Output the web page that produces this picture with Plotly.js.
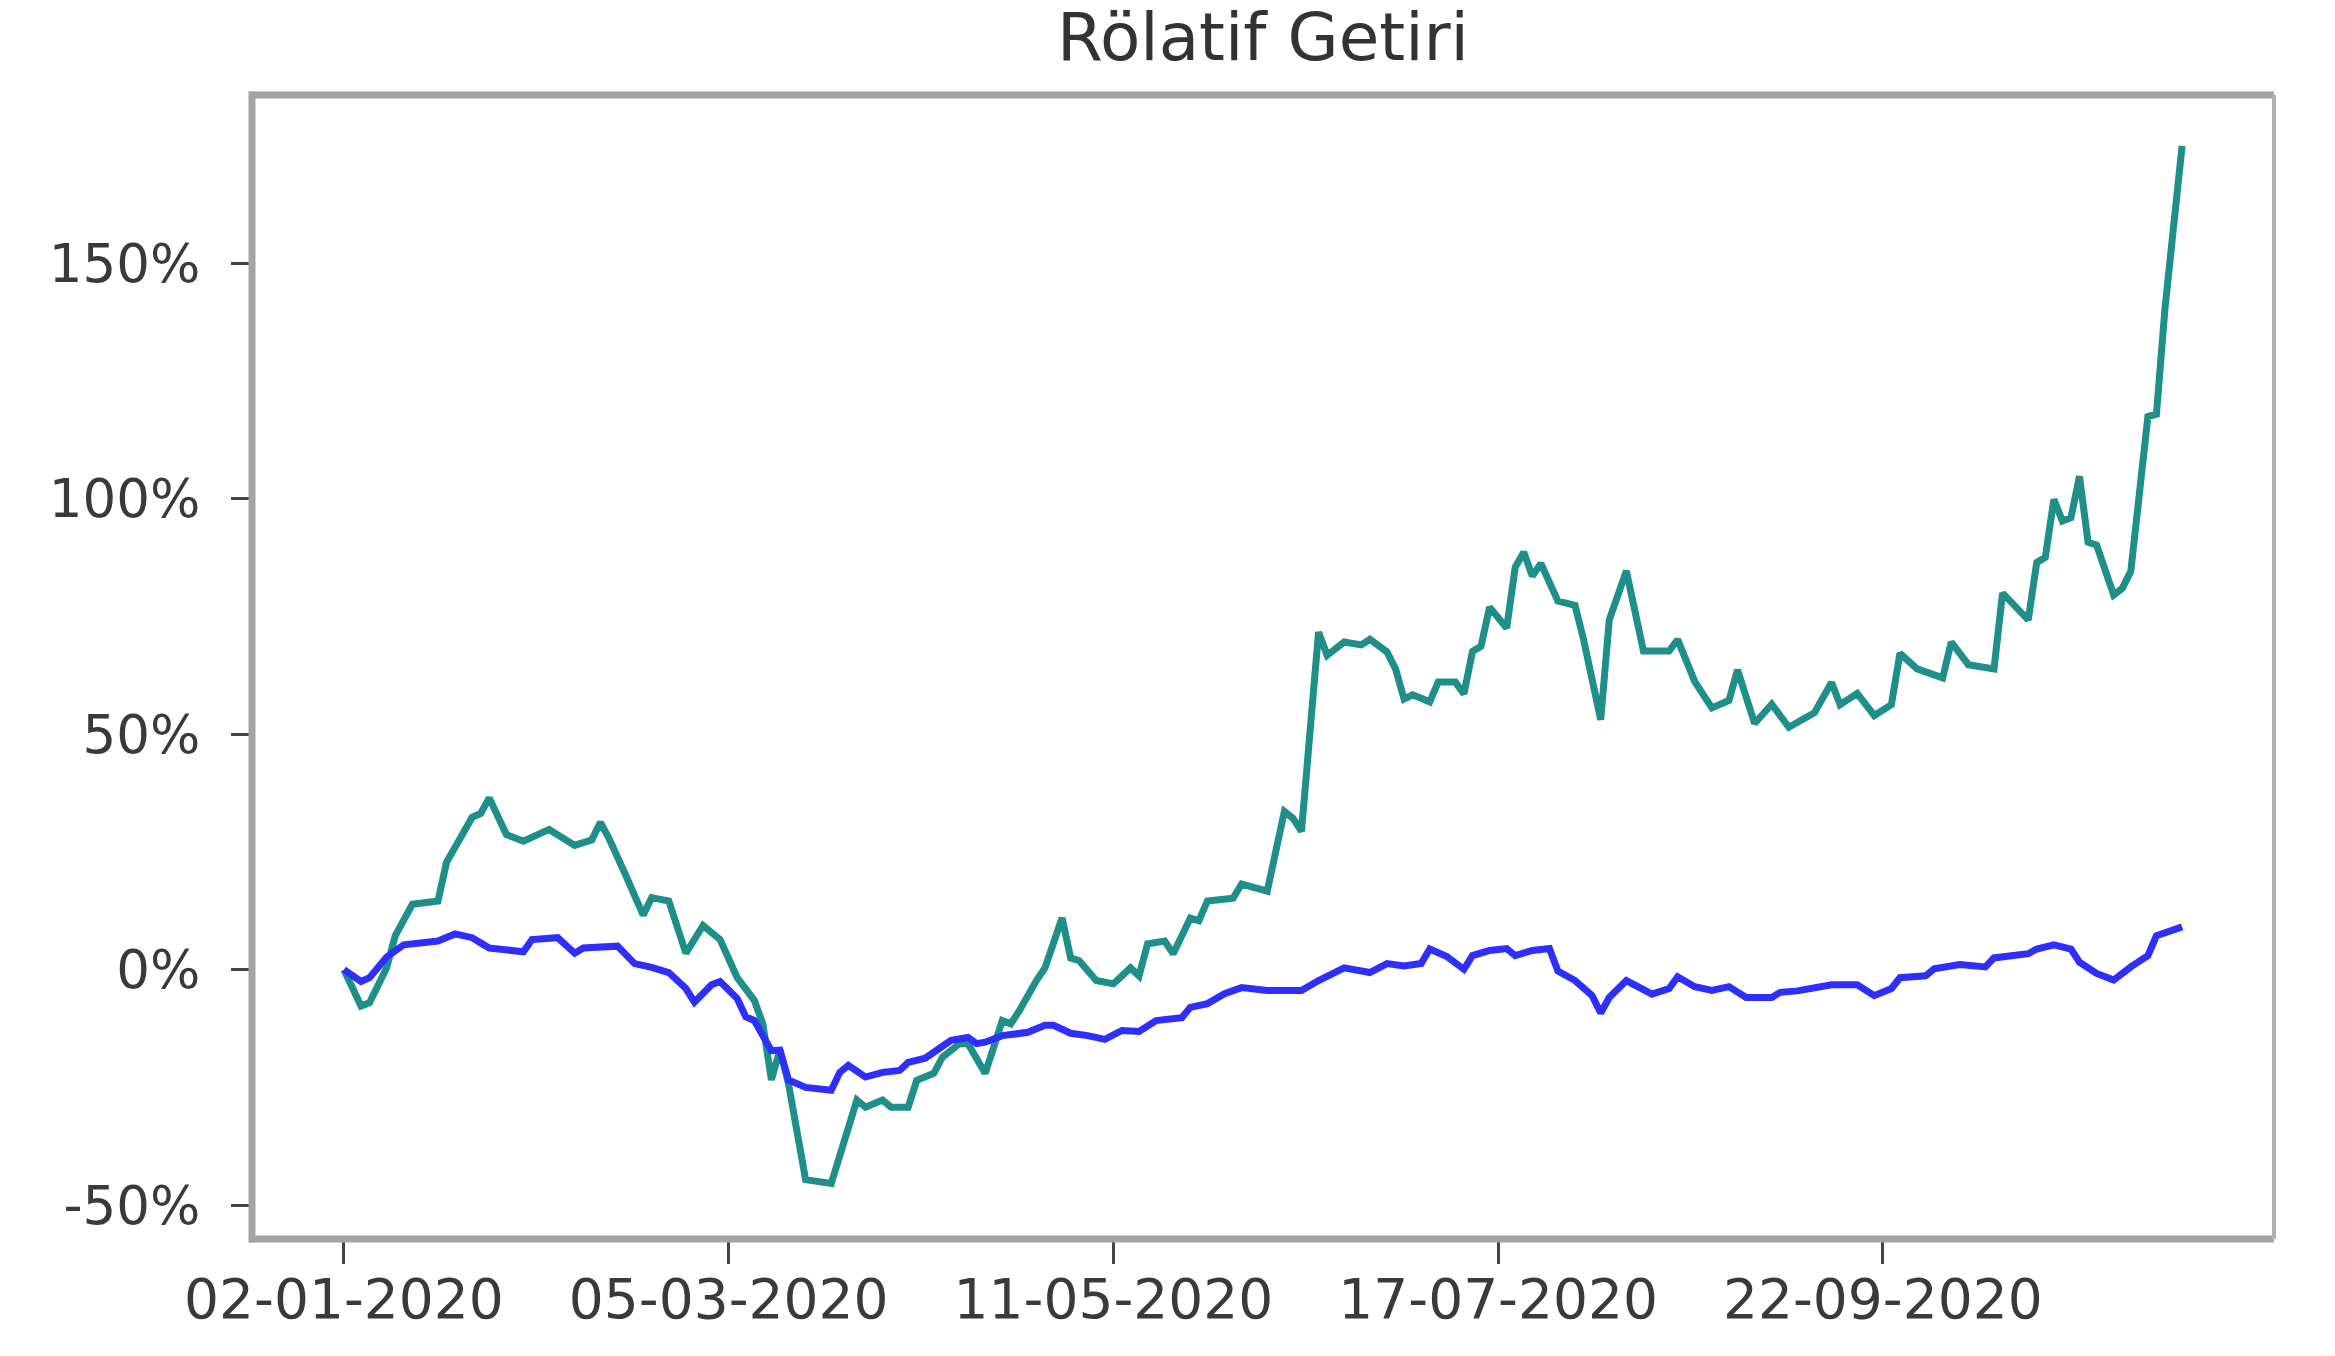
<!DOCTYPE html>
<html>
<head>
<meta charset="utf-8">
<script src="https://cdn.plot.ly/plotly-3.0.1.min.js"></script>
<style>html,body{margin:0;padding:0;background:#fff;}</style>
</head>
<body>
<div id="chart" style="width:2335px;height:1356px;"></div>
<script>
// Trading-day index ticks and their date labels
const tickPositions = [0, 45, 90, 135, 180];
const tickLabels = ['02-01-2020', '05-03-2020', '11-05-2020', '17-07-2020', '22-09-2020'];
const yTicks = [-50, 0, 50, 100, 150];

// Teal series (relative return, %), by trading-day index
const stockDay = [0,2,3,5,6,8,11,12,15,16,17,19,21,24,27,29,30,31,33,35,36,38,40,42,44,46,48,49,50,51,52,54,57,58,60,61,63,64,66,67,69,70,72,73,75,76,77,78,79,81,82,84,85,86,88,90,92,93,94,96,97,99,100,101,104,105,107,108,110,111,112,113,114,115,117,119,120,122,123,124,125,127,128,130,131,132,133,134,136,137,138,139,140,142,144,145,147,148,150,152,155,156,158,160,162,163,165,167,169,172,174,175,177,179,181,182,184,187,188,190,193,194,197,198,199,200,201,202,203,204,205,207,208,209,210,211,212,213,215];
const stockReturn = [0,-7.7,-7,0.4,7.2,13.9,14.6,22.8,32.4,33.2,36.5,28.7,27.3,29.8,26.4,27.6,31.3,27.9,19.9,11.6,15.3,14.6,3.5,9.4,6.4,-1.7,-6.5,-11.5,-23.4,-17,-24.2,-44.6,-45.4,-39.7,-27.7,-29.2,-27.7,-29.2,-29.2,-23.5,-22,-18.6,-15.7,-15.7,-22,-16.5,-10.8,-11.5,-8.7,-2.3,0.4,11,2.5,1.9,-2.3,-3,0.4,-1.3,5.5,6.1,3.4,11,10.4,14.6,15.2,18.2,17.3,16.7,33.6,32.2,29.4,49.1,71.7,66.8,69.6,69,70.2,67.5,63.9,57.5,58.4,56.9,61.1,61.1,58.6,67.6,68.7,77,72.6,85.5,88.7,83.6,86.3,78.3,77.4,70.1,53.1,74.3,84.7,67.7,67.7,70.1,61.2,55.6,57.2,63.7,52.3,56.4,51.5,54.6,61,56.3,58.7,54,56.3,67.2,63.9,62,69.6,64.8,63.9,80,74.3,86.5,87.6,99.9,95.3,96,104.8,90.8,90.2,79.6,81,84.6,102.6,117.5,118,140.5,175];

// Blue series (relative return, %), by trading-day index
const indexDay = [0,2,3,5,7,9,11,13,15,17,21,22,25,27,28,32,34,36,38,40,41,43,44,46,47,48,50,51,52,54,57,58,59,61,63,65,66,68,70,71,73,74,75,77,80,82,83,85,87,89,91,93,95,98,99,101,103,105,108,112,114,117,120,122,124,126,127,129,131,132,134,136,137,139,141,142,144,146,147,148,150,153,155,156,158,160,162,164,167,168,170,174,177,179,181,182,185,186,189,192,193,197,198,200,202,203,205,207,209,211,212,215];
const indexReturn = [0,-2.5,-1.7,2.7,5.3,5.7,6.1,7.6,6.8,4.6,3.8,6.4,6.8,3.5,4.6,5,1.3,0.5,-0.6,-4,-6.9,-3.2,-2.5,-6.1,-10,-10.8,-17.2,-17.1,-23.4,-25,-25.6,-21.8,-20.3,-22.8,-21.8,-21.4,-19.7,-18.8,-16.5,-15,-14.4,-15.7,-15.4,-14,-13.3,-11.8,-11.8,-13.5,-14,-14.8,-12.9,-13.1,-10.8,-10.2,-8,-7.2,-5.1,-3.8,-4.4,-4.4,-2.3,0.4,-0.6,1.3,0.8,1.3,4.4,2.8,0.1,3,4.1,4.5,3,4.1,4.5,-0.3,-2.3,-5.5,-9.2,-5.9,-2.3,-5.2,-4,-1.5,-3.6,-4.4,-3.6,-5.9,-5.9,-4.8,-4.5,-3.2,-3.2,-5.5,-4,-1.7,-1.3,0.2,1.1,0.6,2.5,3.4,4.4,5.3,4.4,1.6,-0.8,-2.2,0.6,3,7.2,9.1];

const traces = [
  {x: stockDay, y: stockReturn, type: 'scatter', mode: 'lines',
   line: {color: '#1f8f89', width: 7}, hoverinfo: 'skip'},
  {x: indexDay, y: indexReturn, type: 'scatter', mode: 'lines',
   line: {color: '#2e2eff', width: 7}, hoverinfo: 'skip'}
];

const spine = '#a3a3a3';
const layout = {
  width: 2335, height: 1356,
  paper_bgcolor: '#ffffff', plot_bgcolor: '#ffffff',
  margin: {l: 252, r: 61, t: 95, b: 117, pad: 0},
  showlegend: false,
  font: {family: 'DejaVu Sans', color: '#3a3a3a', size: 55},
  title: {text: 'Rölatif Getiri', font: {family: 'DejaVu Sans', size: 66, color: '#333333'},
          x: 0.5, xanchor: 'center', xref: 'paper', y: 1 - 37/1356, yanchor: 'middle', yref: 'container'},
  xaxis: {range: [-10.75, 225.75], showgrid: false, zeroline: false, showline: false,
          tickmode: 'array', tickvals: tickPositions, ticktext: tickLabels,
          ticks: 'outside', ticklen: 24, tickwidth: 3, tickcolor: '#444444',
          ticklabelstandoff: -12,
          tickfont: {family: 'DejaVu Sans', size: 55, color: '#3a3a3a'}},
  yaxis: {range: [-57.2, 185.8], showgrid: false, zeroline: false, showline: false,
          tickmode: 'array', tickvals: yTicks, ticktext: yTicks.map(v => v + '%'),
          ticks: 'outside', ticklen: 20, tickwidth: 3, tickcolor: '#444444',
          ticklabelstandoff: 20,
          tickfont: {family: 'DejaVu Sans', size: 53, color: '#3a3a3a'}},
  shapes: [
    {type: 'line', xref: 'paper', yref: 'paper', x0: 0, x1: 0, y0: -0.003, y1: 1.003, line: {color: spine, width: 7}, layer: 'above'},
    {type: 'line', xref: 'paper', yref: 'paper', x0: -0.0015, x1: 1, y0: 1, y1: 1, line: {color: spine, width: 7}, layer: 'above'},
    {type: 'line', xref: 'paper', yref: 'paper', x0: -0.0015, x1: 1, y0: 0, y1: 0, line: {color: spine, width: 7}, layer: 'above'},
    {type: 'line', xref: 'paper', yref: 'paper', x0: 1, x1: 1, y0: 0, y1: 1, line: {color: '#b0b0b0', width: 4}, layer: 'above'}
  ]
};

Plotly.newPlot('chart', traces, layout, {displayModeBar: false, staticPlot: true});
</script>
</body>
</html>
